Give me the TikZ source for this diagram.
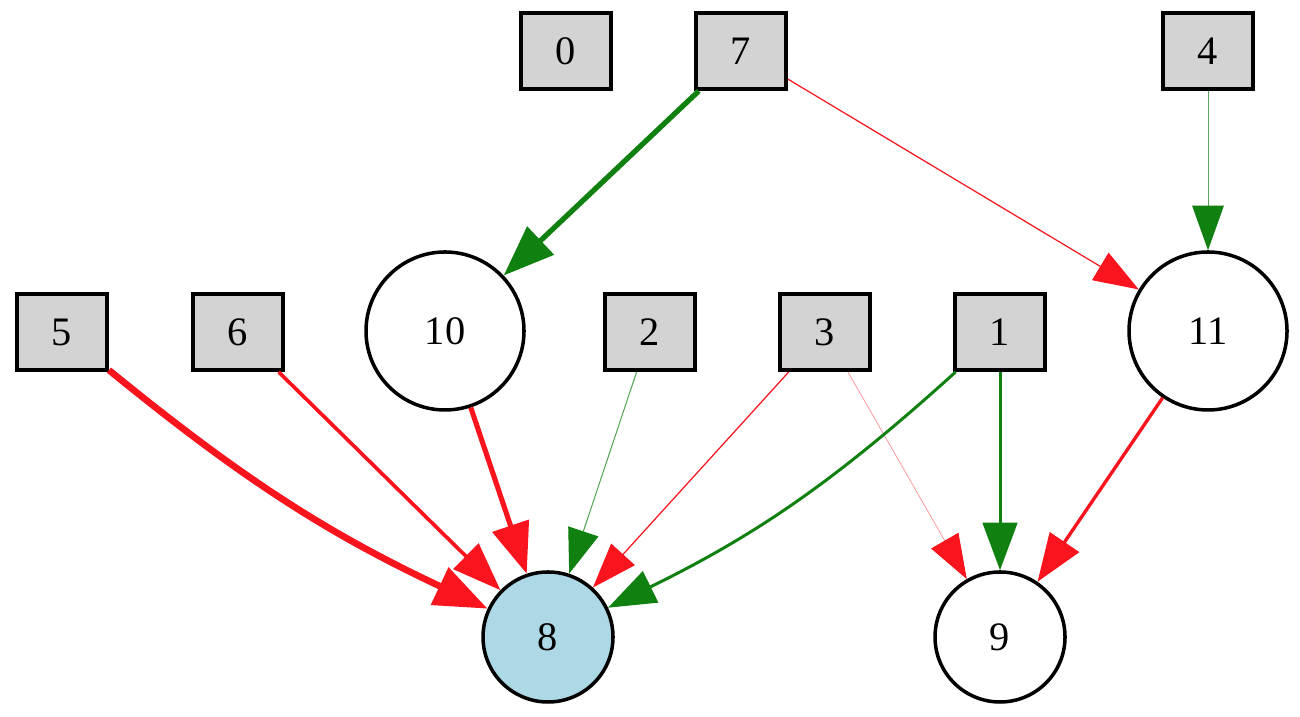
\documentclass[tikz,border=0pt]{standalone}
\usepackage{fontspec}
\setmainfont{Liberation Serif}
\usetikzlibrary{arrows.meta}
\definecolor{posgreen}{RGB}{16,128,16}
\definecolor{negred}{RGB}{250,20,30}
\definecolor{ingray}{RGB}{211,211,211}
\definecolor{outblue}{RGB}{173,216,230}

\begin{document}
\begin{tikzpicture}[
    font=\fontsize{11.5pt}{13pt}\selectfont,
    inbox/.style={draw,fill=ingray,line width=1.1pt,minimum width=0.9cm,minimum height=0.76cm,inner sep=0pt},
    hidden/.style={draw,circle,line width=1pt,minimum size=1.58cm,inner sep=0pt},
    outnode/.style={draw,circle,fill=outblue,line width=1pt,minimum size=1.3cm,inner sep=0pt},
    posedge/.style={draw=posgreen,line width=#1,-{Triangle[length=4.3mm 1.5,width=3.0mm 1.5,color=posgreen]}},
    negedge/.style={draw=negred,line width=#1,-{Triangle[length=4.3mm 1.5,width=3.0mm 1.5,color=negred]}}
]
                \useasboundingbox (0,0) rectangle (13,7.17);

                % Inputs
                \node[inbox] (n0) at (5.66,6.66) {0};
                \node[inbox] (n7) at (7.41,6.66) {7};
                \node[inbox] (n4) at (12.08,6.66) {4};
                \node[inbox] (n5) at (0.62,3.85) {5};
                \node[inbox] (n6) at (2.38,3.85) {6};
                \node[inbox] (n2) at (6.50,3.85) {2};
                \node[inbox] (n3) at (8.25,3.85) {3};
                \node[inbox] (n1) at (10.00,3.85) {1};

                % Hidden
                \node[hidden] (n10) at (4.45,3.86) {10};
                \node[hidden] (n11) at (12.08,3.86) {11};

                % Outputs
                \node[outnode] (n8) at (5.48,0.80) {8};
                \node[outnode,fill=white] (n9) at (10.00,0.80) {9};

                % Edges
                \draw[posedge=1.5pt] (n7) -- (n10);
                \draw[negedge=0.35pt] (n7) -- (n11);
                \draw[posedge=0.3pt,draw=posgreen!70] (n4) -- (n11);
                \draw[negedge=1.9pt] (n5) to[bend right=7] (n8);
                \draw[negedge=1.05pt] (n6) -- (n8);
                \draw[negedge=1.45pt] (n10) -- (n8);
                \draw[posedge=0.3pt,draw=posgreen!70] (n2) -- (n8);
                \draw[negedge=0.35pt] (n3) -- (n8);
                \draw[negedge=0.25pt,draw=negred!40] (n3) -- (n9);
                \draw[posedge=0.85pt] (n1) to[bend left=8] (n8);
                \draw[posedge=0.85pt] (n1) -- (n9);
                \draw[negedge=0.95pt] (n11) -- (n9);
            \end{tikzpicture}
\end{document}
